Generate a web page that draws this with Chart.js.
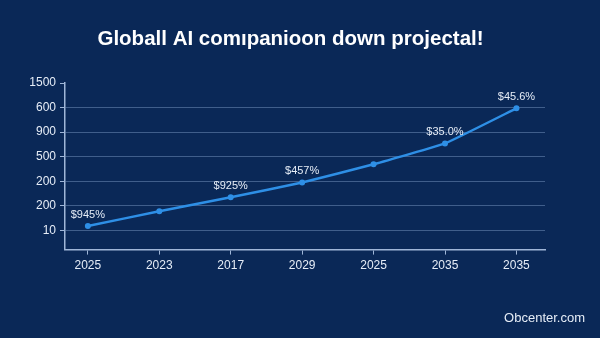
<!DOCTYPE html>
<html>
<head>
<meta charset="utf-8">
<script src="https://cdn.jsdelivr.net/npm/chart.js@4.4.1/dist/chart.umd.min.js"></script>
<style>
html,body{margin:0;padding:0;background:#0a2857;}
#wrap{width:600px;height:338px;position:relative;}
</style>
</head>
<body>
<div id="wrap"><canvas id="c" width="600" height="338"></canvas></div>
<script>
const titleText = "Globall AI comıpanioon down projectal!";
const categories = ["2025","2023","2017","2029","2025","2035","2035"];
const seriesValues = [0.18, 0.78, 1.35, 1.95, 2.69, 3.54, 4.97];
const yTickLabels = ["10","200","200","500","900","600","1500"];
const pointLabels = ["$945%", null, "$925%", "$457%", null, "$35.0%", "$45.6%"];
const watermark = "Obcenter.com";

const textColor = "#e6edf7";
const gridColor = "rgba(130,160,205,0.45)";
const axisColor = "#9fb6d8";
const lineColor = "#2e8fe6";

const bgPlugin = {
  id: "bg",
  beforeDraw(chart) {
    const ctx = chart.ctx;
    ctx.save();
    ctx.fillStyle = "#0a2857";
    ctx.fillRect(0, 0, chart.width, chart.height);
    ctx.restore();
  }
};

const labelPlugin = {
  id: "pointLabels",
  afterDatasetsDraw(chart) {
    const ctx = chart.ctx;
    const meta = chart.getDatasetMeta(0);
    ctx.save();
    ctx.font = "11px 'Liberation Sans', Arial, sans-serif";
    ctx.fillStyle = textColor;
    ctx.textAlign = "center";
    ctx.textBaseline = "bottom";
    meta.data.forEach((pt, i) => {
      if (pointLabels[i]) ctx.fillText(pointLabels[i], pt.x, pt.y - 6);
    });
    ctx.font = "13px 'Liberation Sans', Arial, sans-serif";
    ctx.textAlign = "right";
    ctx.textBaseline = "middle";
    ctx.fillText(watermark, 585, 318);
    ctx.fillStyle = "#ffffff";
    ctx.font = "bold 20.5px 'Liberation Sans', Arial, sans-serif";
    ctx.textAlign = "center";
    ctx.textBaseline = "alphabetic";
    ctx.fillText(titleText, 290.5, 45);
    ctx.restore();
  }
};

new Chart(document.getElementById("c"), {
  type: "line",
  data: {
    datasets: [{
      data: seriesValues.map((v, i) => ({x: i, y: v})),
      borderColor: lineColor,
      backgroundColor: lineColor,
      borderWidth: 2.5,
      pointRadius: 3,
      pointBackgroundColor: lineColor,
      pointBorderWidth: 0,
      tension: 0.1
    }]
  },
  plugins: [bgPlugin, labelPlugin],
  options: {
    responsive: false,
    animation: false,
    devicePixelRatio: 1,
    layout: { padding: { left: 0, right: 55, top: 83, bottom: 61 } },
    plugins: {
      legend: { display: false },
      tooltip: { enabled: false },
      title: { display: false }
    },
    scales: {
      x: {
        type: "linear",
        min: -0.32,
        max: 6.4,
        afterBuildTicks(scale) {
          scale.ticks = categories.map((c, i) => ({value: i}));
        },
        grid: { drawOnChartArea: false, color: axisColor, tickLength: 5, tickColor: axisColor },
        border: { color: axisColor, width: 1.5 },
        ticks: {
          color: textColor,
          font: { family: "'Liberation Sans', Arial, sans-serif", size: 12 },
          padding: 4,
          autoSkip: false,
          maxRotation: 0,
          callback: (v) => categories[v]
        }
      },
      y: {
        type: "linear",
        min: -0.78,
        max: 6,
        afterBuildTicks(scale) {
          scale.ticks = yTickLabels.map((c, i) => ({value: i}));
        },
        afterFit(scale) { scale.width = 65; },
        grid: {
          color: (ctx) => (ctx.tick && ctx.tick.value === 6) ? "rgba(0,0,0,0)" : gridColor,
          tickColor: axisColor,
          tickLength: 5,
          lineWidth: 1
        },
        border: { color: axisColor, width: 1.5 },
        ticks: {
          color: textColor,
          font: { family: "'Liberation Sans', Arial, sans-serif", size: 12 },
          padding: 4,
          callback: (v) => yTickLabels[v]
        }
      }
    }
  }
});
</script>
</body>
</html>
